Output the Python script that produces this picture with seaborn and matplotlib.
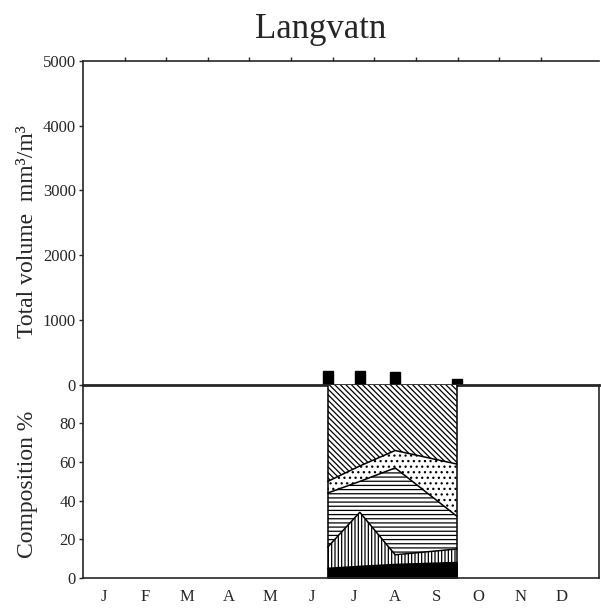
import matplotlib
matplotlib.use("Agg")
import matplotlib.pyplot as plt
import seaborn as sns
import numpy as np
import pandas as pd

# sampling dates, in months counted from 1 January
dates = [5.88, 6.65, 7.5, 8.98]
# total volume, mm3/m3
total_volume = [210, 220, 200, 90]

# composition in % of total volume, one list per group (bottom to top)
group_black = [5, 6, 7, 8]
group_vertical = [11, 28, 5, 7]
group_horizontal = [28, 16, 45, 17]
group_dotted = [6, 8, 9, 27]
group_diagonal = [50, 42, 34, 41]

months = ['J', 'F', 'M', 'A', 'M', 'J', 'J', 'A', 'S', 'O', 'N', 'D']
volume_ticks = [0, 1000, 2000, 3000, 4000, 5000]
percent_ticks = [0, 20, 40, 60, 80]

sns.set_style("white")
plt.rcParams['font.family'] = ['Liberation Serif', 'DejaVu Serif']
plt.rcParams['hatch.linewidth'] = 0.9

df = pd.DataFrame({'date': dates, 'volume': total_volume})

fig = plt.figure(figsize=(6.01, 6.09), dpi=100)
ax_top = fig.add_axes([0.138, 0.368, 0.859, 0.532])
ax_bot = fig.add_axes([0.138, 0.051, 0.859, 0.317])
ax_bot.patch.set_visible(False)

# Total volume bars
sns.barplot(data=df, x='date', y='volume', native_scale=True, width=0.3,
            color='black', saturation=1, edgecolor='black', ax=ax_top)
ax_top.set_xlim(0, 12.4)
ax_top.set_ylim(0, 5000)
ax_top.set_yticks(volume_ticks)
ax_top.set_yticklabels([str(v) for v in volume_ticks], fontsize=12)
ax_top.set_xticks(range(1, 12))
ax_top.tick_params(axis='x', bottom=False, top=True, direction='out', length=3,
                   labelbottom=False, labeltop=False, width=1)
ax_top.tick_params(axis='y', left=True, direction='out', length=3, width=1, pad=2)
ax_top.set_xlabel('')
ax_top.set_ylabel('')
ax_top.spines['right'].set_visible(False)
for s in ['left', 'top']:
    ax_top.spines[s].set_linewidth(1.2)
ax_top.spines['bottom'].set_linewidth(2)

# Composition, stacked
layers = [group_black, group_vertical, group_horizontal, group_dotted, group_diagonal]
hatches = [None, '|||||', '----', '...', '\\\\\\\\\\\\']
stack = np.vstack(layers).cumsum(axis=0)
lower = np.zeros(len(dates))
for i, upper in enumerate(stack):
    if i == 0:
        ax_bot.fill_between(dates, lower, upper, facecolor='black', edgecolor='black', linewidth=1)
    else:
        ax_bot.fill_between(dates, lower, upper, facecolor='white', edgecolor='black',
                            hatch=hatches[i], linewidth=0)
        ax_bot.plot(dates, lower, color='black', lw=1.1)
    lower = upper
ax_bot.plot([dates[0], dates[0]], [0, 100], color='black', lw=1.1)
ax_bot.plot([dates[-1], dates[-1]], [0, 100], color='black', lw=1.1)

ax_bot.set_xlim(0, 12.4)
ax_bot.set_ylim(0, 100)
ax_bot.set_yticks(percent_ticks)
ax_bot.set_yticklabels([str(v) for v in percent_ticks], fontsize=12)
ax_bot.set_xticks(range(1, 12))
ax_bot.set_xticklabels([])
ax_bot.set_xticks([k + 0.5 for k in range(12)], minor=True)
ax_bot.set_xticklabels(months, minor=True, fontsize=12)
ax_bot.tick_params(axis='x', which='major', direction='out', length=3, width=1)
ax_bot.tick_params(axis='x', which='minor', length=0, pad=8)
ax_bot.tick_params(axis='y', left=True, direction='out', length=3, width=1, pad=2)
ax_bot.spines['top'].set_visible(False)
for s in ['left', 'bottom', 'right']:
    ax_bot.spines[s].set_linewidth(1.2)

fig.text(0.534, 0.951, 'Langvatn', ha='center', va='center', fontsize=25)
fig.text(0.045, 0.62, 'Total volume  mm³/m³', rotation=90, ha='center', va='center', fontsize=17)
fig.text(0.045, 0.205, 'Composition %', rotation=90, ha='center', va='center', fontsize=17)

fig.savefig('out.png', dpi=100)
